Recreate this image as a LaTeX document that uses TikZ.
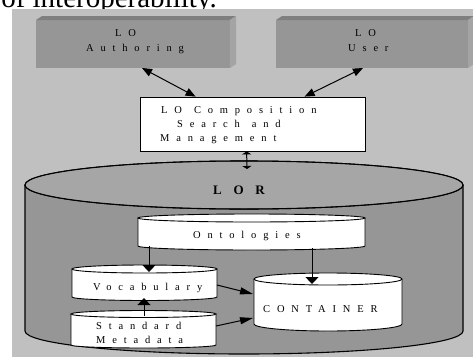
\documentclass[tikz,border=0pt]{standalone}
\usepackage{fontspec}
\setmainfont{Liberation Serif}
\newfontfamily\spc[LetterSpace=65]{Liberation Serif}
\newfontfamily\spcb[LetterSpace=90]{Liberation Serif}
\usetikzlibrary{arrows.meta}
\definecolor{panel}{HTML}{C0C0C0}
\definecolor{boxfront}{HTML}{969696}
\definecolor{boxtop}{HTML}{7F7F7F}
\definecolor{boxside}{HTML}{A4A4A4}
\definecolor{lorbody}{HTML}{969696}
\definecolor{lortop}{HTML}{A6A6A6}
\tikzset{
  lbl/.style={inner sep=0pt, anchor=base west, font=\spc\fontsize{10.5}{12}\selectfont},
  frontbox/.style={fill=boxfront, inner sep=0pt, outer sep=0pt},
  conn/.style={line width=1pt},
  diaghead/.style={{Triangle[length=10pt,width=8pt]}-{Triangle[length=10pt,width=8pt]}},
  vhead/.style={-{Triangle[length=7pt,width=13pt]}},
  hhead/.style={-{Triangle[length=13pt,width=7pt]}},
  smallhead/.style={{Triangle[length=3pt,width=9pt]}-{Triangle[length=3pt,width=9pt]}},
}
% name, cx, rx, ytop, ybot, ry-top, ry-bottom, fill, line width
\newcommand\cylshape[9]{%
  \filldraw[fill=#8, line width=#9] ({#2-#3},#4) -- ({#2-#3},#5)
     arc[start angle=180, end angle=360, x radius=#3pt, y radius=#7pt] -- ({#2+#3},#4);
  \filldraw[fill=#8, line width=#9] (#2,#4) ellipse[x radius=#3pt, y radius=#6pt];
  \node[inner sep=0pt, outer sep=0pt, minimum width={2*#3pt}, minimum height={#5pt-#4pt}, anchor=north] (#1) at (#2,#4) {};
}
\begin{document}
\begin{tikzpicture}[x=1pt,y=-1pt]
\useasboundingbox (0,0) rectangle (473,356);
\clip (0,0) rectangle (473,356);
% clipped heading text
\node[anchor=base east, inner sep=0pt, font=\fontsize{29}{30}\selectfont] (head) at (217,7.5) {of interoperability.};
% panel
\fill[panel] (12,9) rectangle (480,360);
% 3D boxes
\node[frontbox, minimum width=194pt, minimum height=48pt] (auth) at (133,44) {};
\fill[boxtop] (auth.north west) -- ([shift={(6,-4)}]auth.north west) -- ([shift={(6,-4)}]auth.north east) -- (auth.north east) -- cycle;
\fill[boxside] (auth.north east) -- ([shift={(6,-4)}]auth.north east) -- ([shift={(6,-4)}]auth.south east) -- (auth.south east) -- cycle;
\node[frontbox, minimum width=192pt, minimum height=48pt] (user) at (372,44) {};
\fill[boxtop] (user.north west) -- ([shift={(6,-4)}]user.north west) -- ([shift={(6,-4)}]user.north east) -- (user.north east) -- cycle;
\fill[boxside] (user.north east) -- ([shift={(6,-4)}]user.north east) -- ([shift={(6,-4)}]user.south east) -- (user.south east) -- cycle;
\node[lbl] (authA) at (115,36) {LO};
\node[lbl] (authB) at (86,51.5) {Authoring};
\node[lbl] (userA) at (355,36) {LO};
\node[lbl] (userB) at (348,51.5) {User};
% composition box
\node[draw, fill=white, line width=0.8pt, inner sep=0pt, minimum width=225pt, minimum height=54pt] (comp) at (252.5,124) {};
\node[lbl] (compA) at (161,113) {LO\kern12pt Composition};
\node[lbl] (compB) at (177,127) {Search\kern12pt and};
\node[lbl] (compC) at (160,141) {Management};
\draw[conn, diaghead] ([xshift=106pt]auth.south west) -- ([xshift=56pt]comp.north west);
\draw[conn, diaghead] ([xshift=87pt]user.south west) -- ([xshift=165pt]comp.north west);
% LOR cylinder
\cylshape{lor}{244}{219}{185}{331}{24}{23}{lorbody}{1.1pt}
\fill[lortop] (244,185) ellipse[x radius=218.5pt, y radius=23.5pt];
\draw[line width=1.1pt] (244,185) ellipse[x radius=219pt, y radius=24pt];
\node[inner sep=0pt, anchor=base west, font=\spcb\bfseries\fontsize{13}{14}\selectfont] (lorlbl) at (213,194) {LOR};
\draw[conn, smallhead] ([xshift=107pt]comp.south west) -- ([xshift=3pt, yshift=16pt]lor.north);
% inner cylinders
\cylshape{ont}{251.5}{113.5}{218}{246}{4}{4}{white}{0.9pt}
\cylshape{voc}{144.5}{72.5}{269}{297}{4}{3.5}{white}{0.9pt}
\cylshape{cont}{328}{74}{279}{324}{6}{7}{white}{0.9pt}
\cylshape{std}{143.5}{72.5}{314}{345}{3.5}{3}{white}{0.9pt}
\node[lbl] (ontlbl) at (193,238) {Ontologies};
\node[lbl] (voclbl) at (93,290) {Vocabulary};
\node[lbl] (stdA) at (96,329) {Standard};
\node[lbl] (stdB) at (96,343) {Metadata};
\node[lbl] (contlbl) at (263,312) {CONTAINER};
% connectors
\draw[conn, vhead] ([xshift=11pt]ont.south west) -- ([xshift=77pt, yshift=-3pt]voc.north west);
\draw[conn, vhead] ([xshift=174pt, yshift=-2pt]ont.south west) -- ([xshift=58pt, yshift=-5pt]cont.north west);
\draw[conn, hhead] ([yshift=-2pt]voc.east) -- ([xshift=-1pt, yshift=7.5pt]cont.west);
\draw[conn, hhead] ([yshift=3.5pt]std.east) -- ([xshift=-1pt, yshift=-16.5pt]cont.west);
\draw[conn, vhead] ([xshift=73pt, yshift=-2pt]std.north west) -- ([xshift=72pt, yshift=-1pt]voc.south west);
\end{tikzpicture}
\end{document}
